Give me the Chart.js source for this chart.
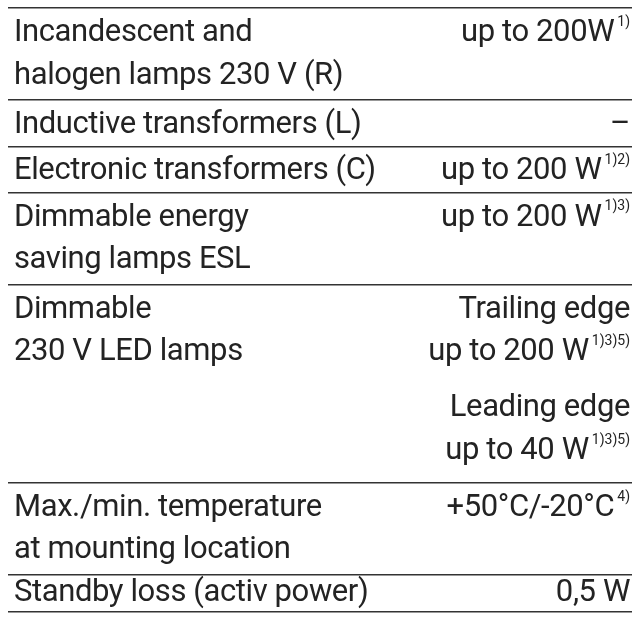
<!DOCTYPE html>
<html>
<head>
<meta charset="utf-8">
<script src="https://cdn.jsdelivr.net/npm/chart.js@4.4.0/dist/chart.umd.min.js"></script>
<style>
  body { margin: 0; background: #fff; }
  #wrap { width: 644px; height: 626px; }
</style>
</head>
<body>
<div id="wrap"><canvas id="specChart"></canvas></div>
<script>
// table content, one entry per row
var leftLabels = [
    ['Incandescent and', 'halogen lamps 230 V (R)'],
    ['Inductive transformers (L)'],
    ['Electronic transformers (C)'],
    ['Dimmable energy', 'saving lamps ESL'],
    ['Dimmable', '230 V LED lamps'],
    ['Max./min. temperature', 'at mounting location'],
    ['Standby loss (activ power)']
];
var rightValues = [
    ['up to 200W'],
    ['–'],
    ['up to 200 W'],
    ['up to 200 W'],
    ['Trailing edge', 'up to 200 W', 'Leading edge', 'up to 40 W'],
    ['+50°C/-20°C'],
    ['0,5 W']
];
var footnotes = [
    ['1)'],
    [''],
    ['1)2)'],
    ['1)3)'],
    ['', '1)3)5)', '', '1)3)5)'],
    ['4)'],
    ['']
];
// row heights in "text line" units
var rowHeights = [2, 1, 1, 2, 4.3, 2, 0.8];

var rowStart = [];
var total = 0;
var boundaries = [0];
for (var i = 0; i < rowHeights.length; i++) {
    rowStart.push(total);
    total += rowHeights[i];
    boundaries.push(total);
}

var FONT = 'Roboto, "Noto Sans", sans-serif';

function lineOffset(r, k) {
    var off = 0.55 + 0.92 * k;
    if (rightValues[r].length > 2 && k >= 2) off += 0.3;
    return Math.min(off, rowHeights[r] - 0.4);
}

var tablePlugin = {
    id: 'tableText',
    afterDraw: function (chart) {
        var ctx = chart.ctx;
        var y = chart.scales.y;
        var area = chart.chartArea;
        ctx.save();
        ctx.fillStyle = '#232323';
        ctx.textBaseline = 'middle';
        for (var r = 0; r < leftLabels.length; r++) {
            ctx.font = '31px ' + FONT;
            ctx.letterSpacing = '-0.4px';
            ctx.textAlign = 'left';
            for (var j = 0; j < leftLabels[r].length; j++) {
                ctx.fillText(leftLabels[r][j], area.left + 6, y.getPixelForValue(rowStart[r] + lineOffset(r, j)));
            }
            for (var k = 0; k < rightValues[r].length; k++) {
                var py = y.getPixelForValue(rowStart[r] + lineOffset(r, k));
                var note = footnotes[r][k];
                var xr = area.right - 2;
                if (note) {
                    ctx.font = '14px ' + FONT;
                    ctx.letterSpacing = '0px';
                    ctx.textAlign = 'right';
                    ctx.fillText(note, xr, py - 11);
                    xr -= ctx.measureText(note).width + 3;
                }
                ctx.font = '31px ' + FONT;
                ctx.letterSpacing = '-0.4px';
                ctx.textAlign = 'right';
                ctx.fillText(rightValues[r][k], xr, py);
            }
        }
        ctx.restore();
    }
};

new Chart(document.getElementById('specChart'), {
    type: 'scatter',
    data: { datasets: [{ data: [] }] },
    options: {
        responsive: true,
        maintainAspectRatio: false,
        animation: false,
        layout: { padding: { left: 8, right: 12, top: 8, bottom: 14 } },
        plugins: { legend: { display: false }, tooltip: { enabled: false } },
        scales: {
            x: { display: false, min: 0, max: 1 },
            y: {
                min: 0,
                max: total,
                reverse: true,
                afterBuildTicks: function (scale) {
                    scale.ticks = boundaries.map(function (v) { return { value: v }; });
                },
                ticks: { display: false },
                border: { display: false },
                grid: { color: '#333', lineWidth: 1.5, drawTicks: false }
            }
        }
    },
    plugins: [tablePlugin]
});
</script>
</body>
</html>
